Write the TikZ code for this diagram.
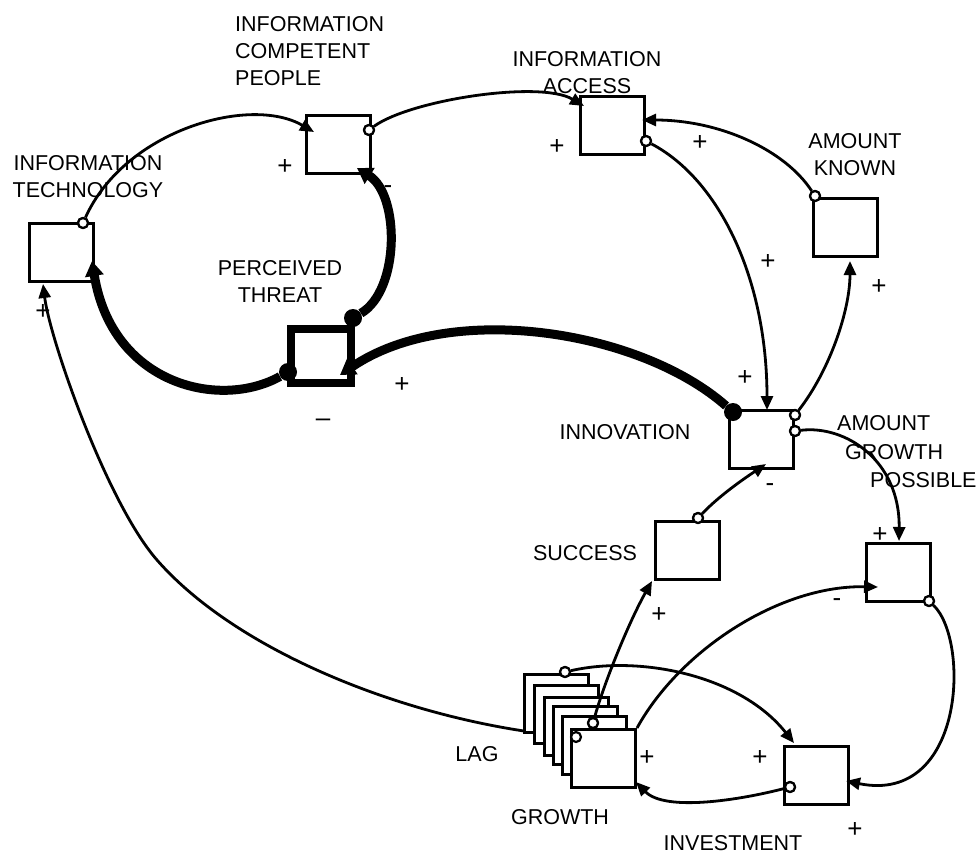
\documentclass[tikz,border=0pt]{standalone}
\usepackage{fontspec}
\setmainfont{Liberation Sans}
\usetikzlibrary{arrows.meta}
\begin{document}
\begin{tikzpicture}[x=1pt,y=-1pt,
  box/.style={draw, line width=3pt, minimum width=64pt, minimum height=58pt, inner sep=0pt, fill=white},
  thickbox/.style={draw, line width=8.5pt, minimum width=60pt, minimum height=54pt, inner sep=0pt, fill=white},
  lbl/.style={font=\fontsize{21.5}{27}\selectfont, inner sep=0pt, align=center},
  lbll/.style={font=\fontsize{21.5}{27}\selectfont, inner sep=0pt, anchor=west},
  sgn/.style={font=\fontsize{26}{28}\selectfont, inner sep=0pt},
  link/.style={line width=2.8pt, -{Triangle[length=14pt,width=12pt]}},
  tlink/.style={line width=9pt, -{Triangle[length=15pt,width=18pt]}},
  src/.style={circle, draw, fill=white, line width=2.2pt, minimum size=10pt, inner sep=0pt},
  bigdot/.style={circle, fill=black, minimum size=18pt, inner sep=0pt}]
\useasboundingbox (0,0) rectangle (979,859);

% LAG curve (behind the stack)
\coordinate (sLAG) at (576,737);
\coordinate (tITbot) at (43,284);
\draw[link] (sLAG) .. controls (420,725) and (240,655) .. (157,560)
  .. controls (107,503) and (50,340) .. (tITbot);

% boxes
\node[box] (it) at (61.5,252.5) {};
\node[box] (icp) at (338,144) {};
\node[box] (ia) at (612.5,125.5) {};
\node[box] (ak) at (845,227) {};
\node[thickbox] (pt) at (321,356) {};
\node[box] (inn) at (761.5,439) {};
\node[box] (agp) at (898,572) {};
\node[box] (succ) at (687.5,550) {};
\node[box] (inv) at (816.5,775) {};
% growth stack
\node[box] (g1) at (556.5,703.5) {};
\node[box] (g2) at (566.5,714.5) {};
\node[box] (g3) at (576.5,726.5) {};
\node[box] (g4) at (585.5,735.5) {};
\node[box] (g5) at (594.5,745.5) {};
\node[box] (gr) at (603.5,758.5) {};

% labels
\node[lbl] (lIT) at (88,177) {INFORMATION\\TECHNOLOGY};
\node[lbl, align=left, anchor=west] (lICP) at (235,51) {INFORMATION\\COMPETENT\\PEOPLE};
\node[lbl] (lIA) at (587,73) {INFORMATION\\ACCESS};
\node[lbl] (lAK) at (855,155) {AMOUNT\\KNOWN};
\node[lbl] (lPT) at (280,281) {PERCEIVED\\THREAT};
\node[lbl] (lINN) at (625,432) {INNOVATION};
\node[lbll] (lAGP1) at (837,423) {AMOUNT};
\node[lbll] (lAGP2) at (845,452) {GROWTH};
\node[lbll] (lAGP3) at (870,480) {POSSIBLE};
\node[lbl] (lSUCC) at (585,553) {SUCCESS};
\node[lbl] (lLAG) at (477,754) {LAG};
\node[lbl] (lGR) at (560,817) {GROWTH};
\node[lbl] (lINV) at (733,843) {INVESTMENT};

% source markers
\node[src] (cIT) at (83,223) {};
\node[src] (cICP) at (369,130) {};
\node[src] (cAK) at (815,196) {};
\node[src] (cIA) at (646,141) {};
\node[src] (cINN1) at (795,415) {};
\node[src] (cINN2) at (795,431) {};
\node[src] (cSUCC) at (698,518) {};
\node[src] (cGR1) at (565,672) {};
\node[src] (cGR2) at (593,723) {};
\node[src] (cAGP) at (929,601) {};
\node[src] (cINV) at (790,787) {};
\coordinate (sGR) at (637,728);

% targets
\coordinate (tICP) at (314,132);
\coordinate (tIA) at (584,106);
\coordinate (tIAr) at (642,120);
\coordinate (tINNtop) at (767,410);
\coordinate (tAKbot) at (850,261);
\coordinate (tAGPtop) at (899,541);
\coordinate (tINNbot) at (766,464);
\coordinate (tSUCC) at (652,581);
\coordinate (tAGPl) at (878,587);
\coordinate (tINVtl) at (794,743);
\coordinate (tGRr) at (636,782);
\coordinate (tINVr) at (846,781);
\coordinate (tICPbot) at (357,168);
\coordinate (tITr) at (92,261);
\coordinate (tPT) at (340,375);

% thin links
\draw[link] (cIT) .. controls (125,130) and (250,95) .. (tICP);
\draw[link] (cICP) .. controls (410,100) and (540,80) .. (tIA);
\draw[link] (cAK) .. controls (785,150) and (720,120) .. (tIAr);
\draw[link] (cIA) .. controls (720,180) and (767,280) .. (tINNtop);
\draw[link] (cINN1) .. controls (830,370) and (850,310) .. (tAKbot);
\draw[link] (cINN2) .. controls (845,425) and (900,460) .. (tAGPtop);
\draw[link] (cSUCC) .. controls (720,495) and (745,478) .. (tINNbot);
\draw[link] (cGR2) .. controls (605,680) and (630,620) .. (tSUCC);
\draw[link] (sGR) .. controls (680,650) and (780,585) .. (tAGPl);
\draw[link] (cGR1) .. controls (640,655) and (740,675) .. (tINVtl);
\draw[link] (cINV) .. controls (740,800) and (665,812) .. (tGRr);
\draw[link] (cAGP) .. controls (970,640) and (965,805) .. (tINVr);

% thick links
\node[bigdot] (dPT1) at (353,318) {};
\node[bigdot] (dPT2) at (288,372) {};
\node[bigdot] (dINN) at (733,412) {};
\draw[tlink] (dPT1) .. controls (400,290) and (400,195) .. (tICPbot);
\draw[tlink] (dPT2) .. controls (220,410) and (112,385) .. (tITr);
\draw[tlink] (dINN) .. controls (640,330) and (450,300) .. (tPT);

% redraw source markers on top
\foreach \n in {cIT,cICP,cAK,cIA,cINN1,cINN2,cSUCC,cGR1,cGR2,cAGP,cINV}
  \node[src] at (\n) {};
\node[src] (cLAG) at (sLAG) {};

% signs
\node[sgn] (p1) at (285,167) {+};
\node[sgn] (p2) at (557,147) {+};
\node[sgn] (p3) at (700,143) {+};
\node[sgn] (p4) at (768,262) {+};
\node[sgn] (p5) at (879,287) {+};
\node[sgn] (p6) at (402,385) {+};
\node[sgn] (p7) at (745,378) {+};
\node[sgn] (p8) at (880,535) {+};
\node[sgn] (p9) at (659,615) {+};
\node[sgn] (p10) at (647,758) {+};
\node[sgn] (p11) at (760,758) {+};
\node[sgn] (p12) at (855,830) {+};
\node[sgn] (p13) at (43,312) {+};
\node[sgn] (m1) at (388,190) {-};
\node[sgn] (m2) at (323,423) {–};
\node[sgn] (m3) at (770,488) {-};
\node[sgn] (m4) at (837,603) {-};
\end{tikzpicture}
\end{document}
